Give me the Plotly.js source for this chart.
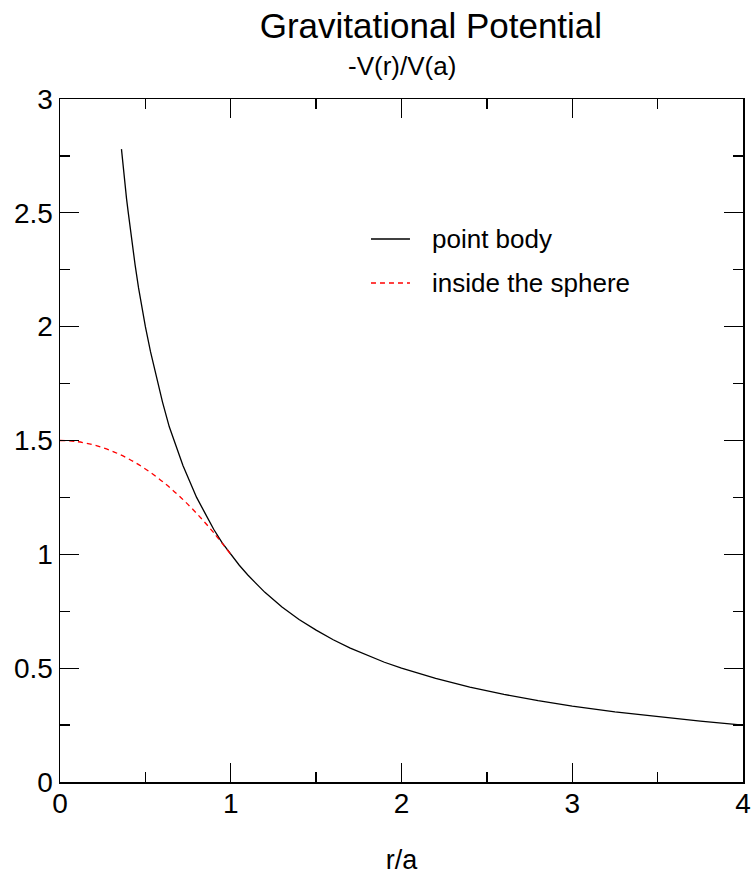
<!DOCTYPE html>
<html><head><meta charset="utf-8">
<script src="https://cdn.plot.ly/plotly-3.0.1.min.js"></script>
<style>body{margin:0;background:#fff}#c{width:752px;height:875px}</style>
</head><body><div id="c"></div>
<script>
// point body curve
const pointR = [0.36,0.37,0.38,0.39,0.40,0.42,0.44,0.46,0.48,0.50,0.53,0.56,0.60,0.64,0.68,0.72,0.76,0.80,0.85,0.90,0.95,1.00,1.05,1.10,1.15,1.20,1.30,1.40,1.50,1.60,1.70,1.80,1.90,2.00,2.20,2.40,2.60,2.80,3.00,3.25,3.50,3.75,4.00];
const pointV = [2.78,2.70,2.63,2.56,2.50,2.38,2.27,2.17,2.08,2.00,1.89,1.79,1.67,1.56,1.47,1.39,1.32,1.25,1.18,1.11,1.05,1.00,0.952,0.909,0.870,0.833,0.769,0.714,0.667,0.625,0.588,0.556,0.526,0.500,0.455,0.417,0.385,0.357,0.333,0.308,0.286,0.267,0.250];
// inside the sphere curve
const sphereR = [0.0,0.1,0.2,0.3,0.4,0.5,0.6,0.7,0.8,0.9,1.0];
const sphereV = [1.50,1.495,1.48,1.455,1.42,1.375,1.32,1.255,1.18,1.095,1.00];
const xTicks = [0,1,2,3,4];
const yTicks = [0,0.5,1,1.5,2,2.5,3];
const seriesNames = ["point body","inside the sphere"];
const seriesColors = ["#000000","#ff0000"];
const seriesDash = ["solid","5px,4px"];

const F = "Liberation Sans, Arial, sans-serif";
const traces = [
  {x: pointR, y: pointV, mode:'lines', name: seriesNames[0], showlegend:false,
   line:{color:seriesColors[0], width:1.3}},
  {x: sphereR, y: sphereV, mode:'lines', name: seriesNames[1], showlegend:false,
   line:{color:seriesColors[1], width:1.3, dash:seriesDash[1], shape:'spline'}}
];
const axisCommon = {
  showline:true, linewidth:1.5, linecolor:'#000', mirror:'ticks',
  ticks:'inside', ticklen:19, tickwidth:1.3, tickcolor:'#000',
  showgrid:false, zeroline:false, tickfont:{family:F, size:28, color:'#000'}
};
// manual legend (line samples + labels) in paper coordinates
const legRows = [0.795, 0.7306];
const shapes = seriesNames.map((n,i)=>({type:'line', xref:'paper', yref:'paper',
  x0:0.4553, x1:0.5124, y0:legRows[i], y1:legRows[i],
  line:{color:seriesColors[i], width:1.3, dash:seriesDash[i]}}));
const annotations = seriesNames.map((n,i)=>({text:n, xref:'paper', yref:'paper',
  x:0.5417, y:legRows[i], xanchor:'left', yanchor:'middle', showarrow:false,
  font:{family:F, size:26, color:'#000'}}));
annotations.push({text:'-V(r)/V(a)', xref:'paper', yref:'paper', x:0.5007, y:1.0483,
  xanchor:'center', yanchor:'middle', showarrow:false, font:{family:F, size:26, color:'#000'}});

const layout = {
  width:752, height:875,
  margin:{l:60, r:9, t:99, b:93},
  paper_bgcolor:'#fff', plot_bgcolor:'#fff',
  font:{family:F, color:'#000'},
  title:{text:'Gravitational Potential', font:{family:F, size:35, color:'#000'},
         x:0.573, xanchor:'center', y:0.985, yanchor:'top'},
  xaxis: Object.assign({}, axisCommon, {range:[0,4], tickvals:xTicks, ticktext:xTicks.map(String),
    ticklabelstandoff:-4,
    minor:{dtick:0.5, ticks:'inside', ticklen:10, tickwidth:1.3, tickcolor:'#000', showgrid:false},
    title:{text:'r/a', font:{family:F, size:27, color:'#000'}, standoff:33}}),
  yaxis: Object.assign({}, axisCommon, {range:[0,3], tickvals:yTicks, ticktext:yTicks.map(String),
    minor:{dtick:0.25, ticks:'inside', ticklen:10, tickwidth:1.3, tickcolor:'#000', showgrid:false}}),
  showlegend:false,
  shapes: shapes,
  annotations: annotations
};
Plotly.newPlot('c', traces, layout, {displayModeBar:false, staticPlot:true});
</script></body></html>
